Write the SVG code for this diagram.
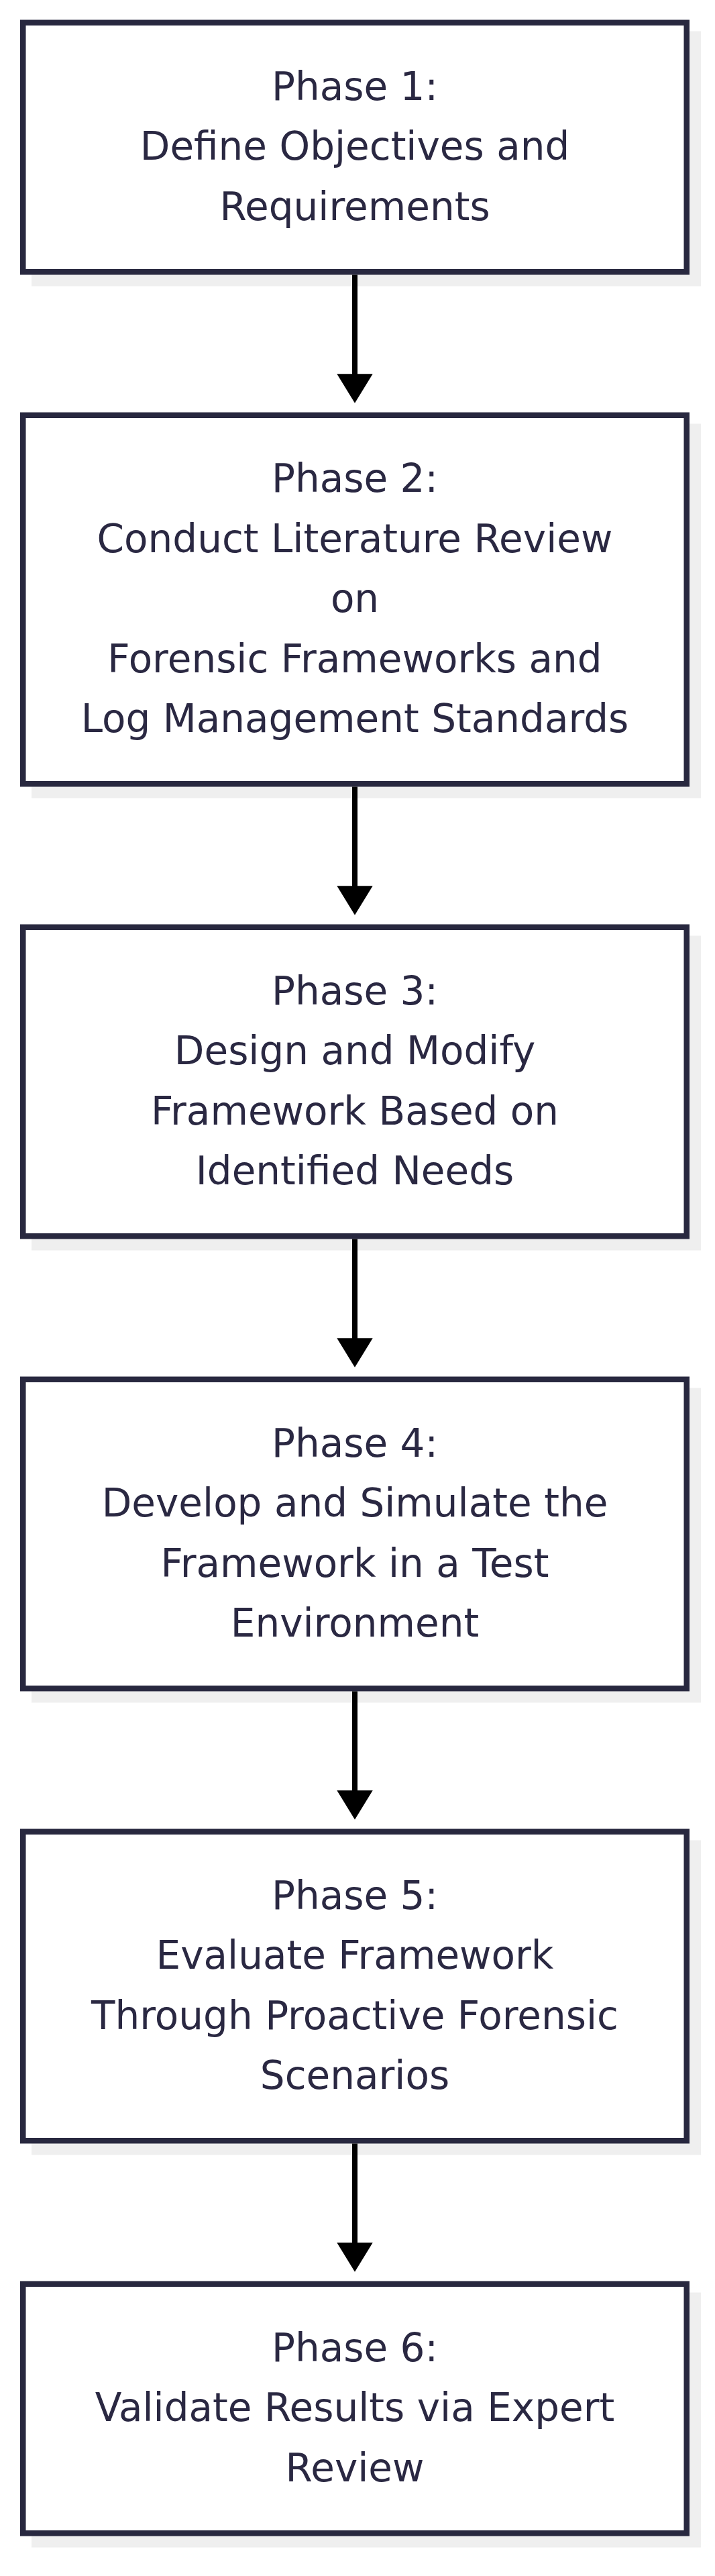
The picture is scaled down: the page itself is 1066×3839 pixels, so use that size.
<svg xmlns="http://www.w3.org/2000/svg" width="1066" height="3839" viewBox="0 0 1066 3839">
  <style>
    .shadow { fill: #efefef; }
    .box { fill: #ffffff; stroke: #28283f; stroke-width: 8.5; }
    .label { font-family: "DejaVu Sans", "Noto Sans", sans-serif; font-size: 58px; fill: #2a2842; text-anchor: middle; }
    .edge { stroke: #000000; stroke-width: 8; fill: none; }
  </style>
  <defs>
    <marker id="arrow" markerUnits="userSpaceOnUse" viewBox="0 0 44 54" markerWidth="44" markerHeight="54" refX="1" refY="26.7" orient="auto">
      <path d="M0,0 L43.5,26.7 L0,53.4 Z" fill="#000000"/>
    </marker>
  </defs>
  <rect width="1066" height="3839" fill="#ffffff"/>

  <g id="phase1">
    <rect class="shadow" x="47" y="46.5" width="998" height="380"/>
    <rect class="box" x="34.25" y="33.75" width="989.5" height="371.5"/>
    <text class="label" x="529" y="148.8">Phase 1:</text>
    <text class="label" x="529" y="238.3">Define Objectives and</text>
    <text class="label" x="529" y="327.8">Requirements</text>
  </g>

  <g id="phase2">
    <rect class="shadow" x="47" y="631.5" width="998" height="558"/>
    <rect class="box" x="34.25" y="618.75" width="989.5" height="549.5"/>
    <text class="label" x="529" y="733.3">Phase 2:</text>
    <text class="label" x="529" y="822.8">Conduct Literature Review</text>
    <text class="label" x="529" y="912.3">on</text>
    <text class="label" x="529" y="1001.8">Forensic Frameworks and</text>
    <text class="label" x="529" y="1091.3">Log Management Standards</text>
  </g>

  <g id="phase3">
    <rect class="shadow" x="47" y="1394.5" width="998" height="469"/>
    <rect class="box" x="34.25" y="1381.75" width="989.5" height="460.5"/>
    <text class="label" x="529" y="1496.6">Phase 3:</text>
    <text class="label" x="529" y="1586.1">Design and Modify</text>
    <text class="label" x="529" y="1675.6">Framework Based on</text>
    <text class="label" x="529" y="1765.1">Identified Needs</text>
  </g>

  <g id="phase4">
    <rect class="shadow" x="47" y="2068.5" width="998" height="469"/>
    <rect class="box" x="34.25" y="2055.75" width="989.5" height="460.5"/>
    <text class="label" x="529" y="2170.6">Phase 4:</text>
    <text class="label" x="529" y="2260.1">Develop and Simulate the</text>
    <text class="label" x="529" y="2349.6">Framework in a Test</text>
    <text class="label" x="529" y="2439.1">Environment</text>
  </g>

  <g id="phase5">
    <rect class="shadow" x="47" y="2742.5" width="998" height="469"/>
    <rect class="box" x="34.25" y="2729.75" width="989.5" height="460.5"/>
    <text class="label" x="529" y="2844.6">Phase 5:</text>
    <text class="label" x="529" y="2934.1">Evaluate Framework</text>
    <text class="label" x="529" y="3023.6">Through Proactive Forensic</text>
    <text class="label" x="529" y="3113.1">Scenarios</text>
  </g>

  <g id="phase6">
    <rect class="shadow" x="47" y="3416.5" width="998" height="380"/>
    <rect class="box" x="34.25" y="3403.75" width="989.5" height="371.5"/>
    <text class="label" x="529" y="3518.8">Phase 6:</text>
    <text class="label" x="529" y="3608.3">Validate Results via Expert</text>
    <text class="label" x="529" y="3697.8">Review</text>
  </g>

  <g id="connectors">
    <path class="edge" d="M529,409.5 V558.3" marker-end="url(#arrow)"/>
    <path class="edge" d="M529,1172.5 V1321.3" marker-end="url(#arrow)"/>
    <path class="edge" d="M529,1846.5 V1995.3" marker-end="url(#arrow)"/>
    <path class="edge" d="M529,2520.5 V2669.3" marker-end="url(#arrow)"/>
    <path class="edge" d="M529,3194.5 V3343.3" marker-end="url(#arrow)"/>
  </g>
</svg>
